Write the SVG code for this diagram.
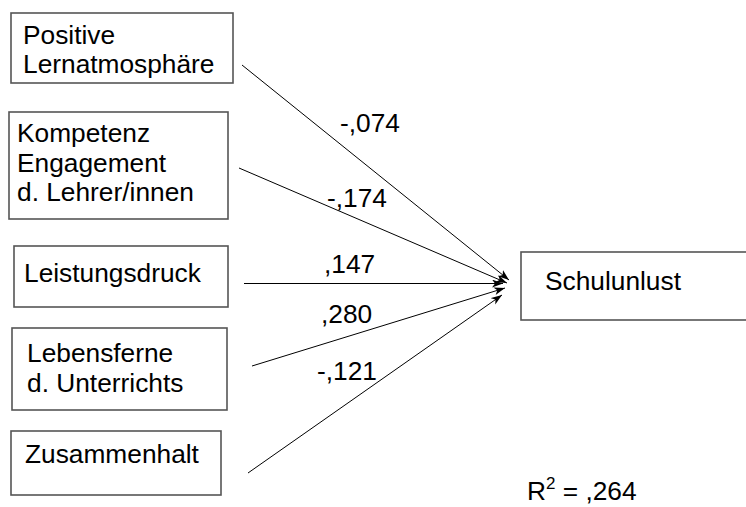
<svg xmlns="http://www.w3.org/2000/svg" width="746" height="507" viewBox="0 0 746 507">
<defs>
<style>
.box{fill:#fff;stroke:#555;stroke-width:1.6}
.t{font-family:"Liberation Sans",Arial,sans-serif;font-size:26.3px;fill:#000}
.c{stroke:#000;stroke-width:1;fill:none;marker-end:url(#ah)}
</style>
<marker id="ah" markerWidth="12" markerHeight="10" refX="11" refY="4" orient="auto" markerUnits="userSpaceOnUse">
<path d="M0,0 L11,4 L0,8 L3,4 Z" fill="#000"/>
</marker>
</defs>
<rect width="746" height="507" fill="#fff"/>
<g id="n1">
<rect class="box" x="11" y="13" width="222" height="70"/>
<text class="t" x="23" y="44">Positive</text>
<text class="t" x="23" y="73">Lernatmosphäre</text>
</g>
<g id="n2">
<rect class="box" x="9" y="112" width="219" height="107"/>
<text class="t" x="17" y="142">Kompetenz</text>
<text class="t" x="17" y="172">Engagement</text>
<text class="t" x="17" y="201">d. Lehrer/innen</text>
</g>
<g id="n3">
<rect class="box" x="14" y="246" width="214" height="61"/>
<text class="t" x="24" y="282">Leistungsdruck</text>
</g>
<g id="n4">
<rect class="box" x="12" y="328" width="215" height="82"/>
<text class="t" x="27" y="362">Lebensferne</text>
<text class="t" x="27" y="392">d. Unterrichts</text>
</g>
<g id="n5">
<rect class="box" x="11" y="431" width="210" height="64"/>
<text class="t" x="25" y="463">Zusammenhalt</text>
</g>
<g id="target">
<rect class="box" x="521" y="252" width="235" height="68"/>
<text class="t" x="545" y="290">Schulunlust</text>
</g>
<g id="connectors">
<line class="c" x1="242" y1="65" x2="509" y2="280"/>
<line class="c" x1="239" y1="168" x2="507" y2="283"/>
<line class="c" x1="244" y1="283.5" x2="503" y2="283.5"/>
<line class="c" x1="252" y1="366" x2="505" y2="288"/>
<line class="c" x1="248" y1="473" x2="502" y2="295"/>
</g>
<g id="labels">
<text class="t" x="340" y="132">-,074</text>
<text class="t" x="327" y="207">-,174</text>
<text class="t" x="324" y="273">,147</text>
<text class="t" x="321" y="323">,280</text>
<text class="t" x="317" y="380">-,121</text>
<text class="t" x="527" y="500">R<tspan font-size="17" dy="-11">2</tspan><tspan dy="11"> = ,264</tspan></text>
</g>
</svg>
